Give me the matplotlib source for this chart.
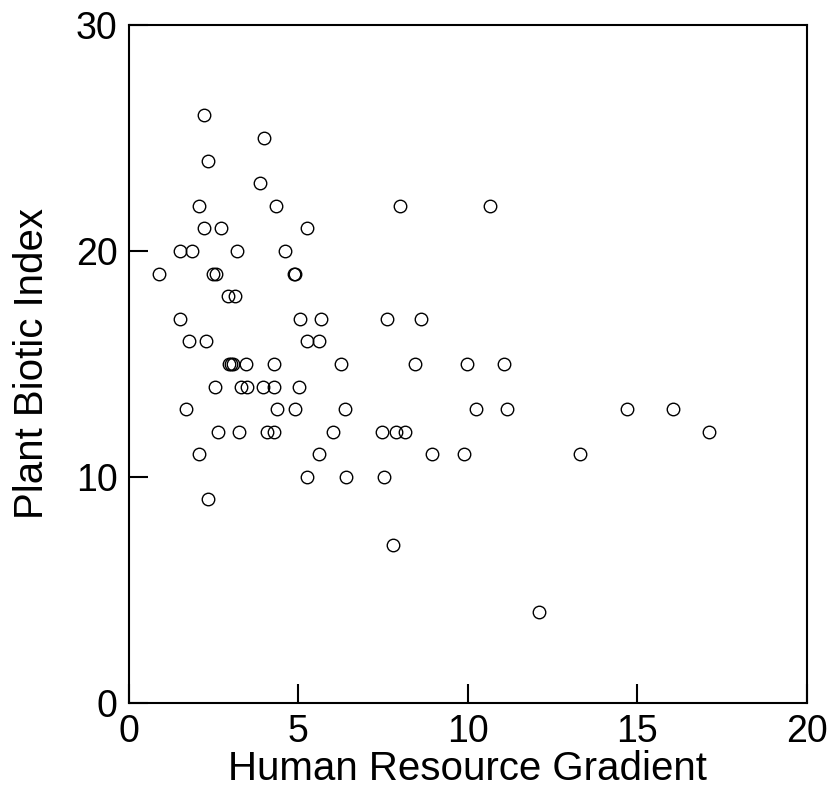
import numpy as np
import matplotlib
matplotlib.use("Agg")
from matplotlib import pyplot as plt

plt.rcParams['font.family'] = ['Liberation Sans', 'DejaVu Sans']

# human resource gradient (x) and plant biotic index (y), one pair per site
gradient = [
    2.21, 3.98, 2.34, 3.86,
    2.07, 4.33, 8.01, 10.64,
    2.23, 2.71, 5.26,
    1.52, 1.87, 3.19, 4.61,
    0.90, 2.47, 2.57, 4.87, 4.91,
    2.93, 3.14,
    1.52, 5.06, 5.68, 7.61, 8.63,
    1.77, 2.29, 5.27, 5.62,
    2.95, 3.02, 3.08, 3.46, 4.27, 6.26, 8.44, 9.98, 11.07,
    2.53, 3.31, 3.50, 3.95, 4.29, 5.01,
    1.70, 4.38, 4.89, 6.37, 10.23, 11.14, 14.69, 16.04,
    2.63, 3.24, 4.09, 4.28, 6.03, 7.46, 7.87, 8.14, 17.12,
    2.07, 5.62, 8.93, 9.88, 13.31,
    5.26, 6.40, 7.52,
    2.34,
    7.78,
    12.09,
]
biotic_index = [
    26, 25, 24, 23,
    22, 22, 22, 22,
    21, 21, 21,
    20, 20, 20, 20,
    19, 19, 19, 19, 19,
    18, 18,
    17, 17, 17, 17, 17,
    16, 16, 16, 16,
    15, 15, 15, 15, 15, 15, 15, 15, 15,
    14, 14, 14, 14, 14, 14,
    13, 13, 13, 13, 13, 13, 13, 13,
    12, 12, 12, 12, 12, 12, 12, 12, 12,
    11, 11, 11, 11, 11,
    10, 10, 10,
    9,
    7,
    4,
]

x_ticks = [0, 5, 10, 15, 20]
y_ticks = [0, 10, 20, 30]

fig = plt.figure(figsize=(8.31, 8.06), dpi=100)
ax = fig.add_axes([0.155, 0.128, 0.816, 0.841])

ax.plot(gradient, biotic_index, 'o', markersize=9, markerfacecolor='none',
        markeredgecolor='black', markeredgewidth=1.0)

ax.set_xlim(0, 20)
ax.set_ylim(0, 30)
ax.set_xticks(x_ticks)
ax.set_yticks(y_ticks)
ax.tick_params(direction='in', length=14, width=1.5, labelsize=27, pad=8,
               top=False, right=False)

for spine in ax.spines.values():
    spine.set_linewidth(1.5)

ax.set_xlabel('Human Resource Gradient', fontsize=29, labelpad=0)
ax.set_ylabel('Plant Biotic Index', fontsize=29, labelpad=18)

fig.savefig('out.png', dpi=100)
